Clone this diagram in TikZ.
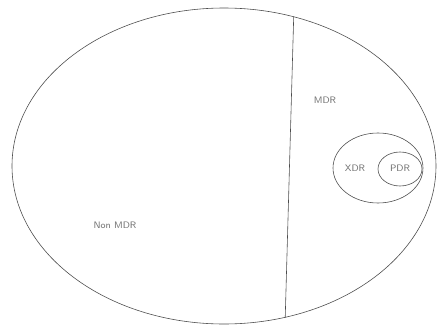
\documentclass[tikz,border=0pt]{standalone}
\usepackage{tikz}
\usetikzlibrary{shapes.geometric, positioning, calc}

\begin{document}
\begin{tikzpicture}[
    x=0.03cm, y=-0.03cm,
    font=\footnotesize\sffamily,
    set/.style={draw=black!70, ellipse, line width=0.5pt, inner sep=0pt},
    lbl/.style={text=black!55, inner sep=1pt},
]
    \useasboundingbox (0,0) rectangle (437,333);

    %==================== ALL ISOLATES ====================
    \node[set, minimum width=424*0.03cm, minimum height=316*0.03cm] (all) at (224,166) {};

    %==================== MDR split ====================
    \draw[black!70, line width=0.5pt] (all.65) -- (all.-68);

    %==================== XDR / PDR ====================
    \node[set, minimum width=90*0.03cm, minimum height=70*0.03cm] (xdr) at (378,168) {};
    \node[set, minimum width=44*0.03cm, minimum height=34*0.03cm] (pdr) at (400,169) {};

    %==================== labels ====================
    \node[lbl] (mdrlbl) at (325,100) {MDR};
    \node[lbl] (xdrlbl) at (355,168) {XDR};
    \node[lbl] (pdrlbl) at (400,168) {PDR};
    \node[lbl] (nonlbl) at (115,225) {Non MDR};

\end{tikzpicture}
\end{document}
